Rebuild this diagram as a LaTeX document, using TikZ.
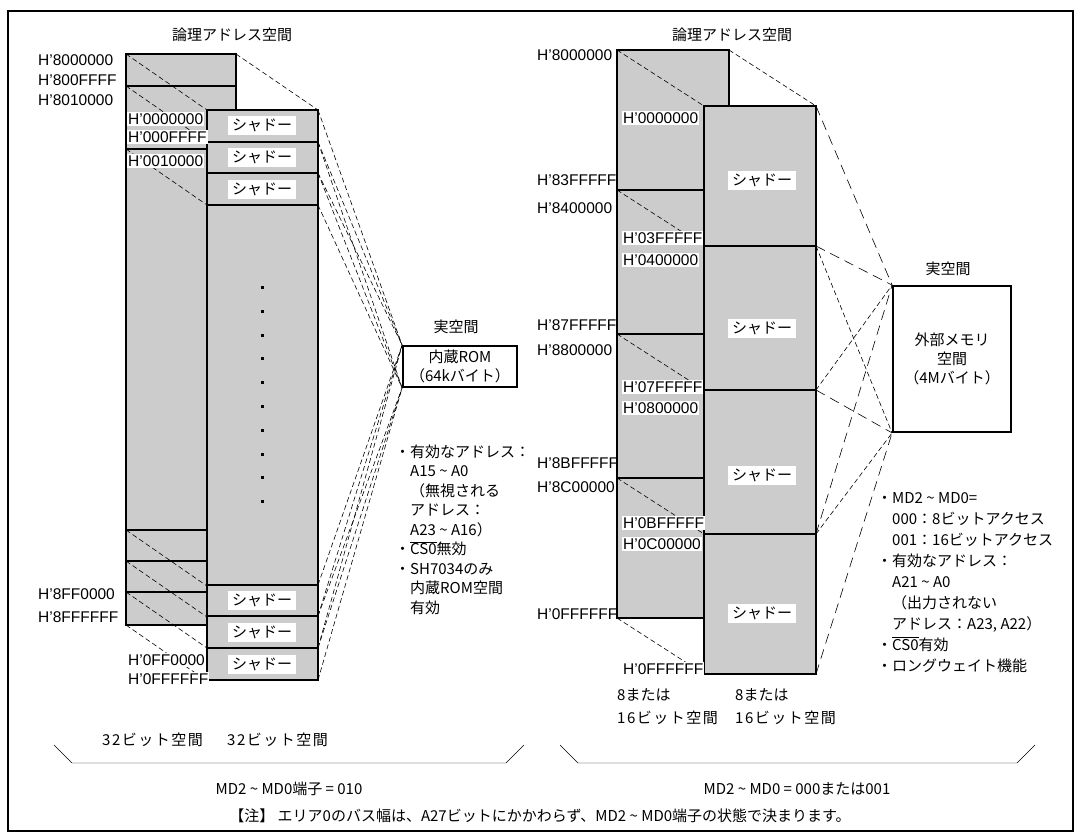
\documentclass[tikz,border=0pt]{standalone}
\usepackage{fontspec}
\setmainfont{Liberation Sans}
\newfontfamily\jp{Noto Sans CJK JP}
\newfontfamily\jpwide[LetterSpace=10]{Noto Sans CJK JP}
\newcommand\ovl[1]{$\overline{\hbox{#1}}$}
\newcommand\tld{\textasciitilde}
\begin{document}
\begin{tikzpicture}[x=1pt,y=-1pt,
  outline/.style={line width=1.8pt},
  area/.style={draw,line width=1.8pt,fill=black!20},
  cut/.style={line width=1.8pt},
  map/.style={line width=0.6pt,dash pattern=on 5pt off 3pt},
  maplong/.style={line width=0.6pt,dash pattern=on 10pt off 6pt},
  real/.style={draw,line width=1.8pt,fill=white,align=center,inner sep=0pt,font=\jp\fontsize{15}{19}\selectfont},
  jtxt/.style={font=\jp\fontsize{15}{19}\selectfont,inner sep=0pt},
  memnote/.style={jtxt,anchor=west,text height=12.5pt,text depth=2.5pt},
  shadowlbl/.style={fill=white,font=\jp\fontsize{15}{15}\selectfont,inner xsep=4pt,inner ysep=2pt,text height=12.5pt,text depth=2.5pt},
  addr/.style={anchor=west,font=\fontsize{15.5}{16}\selectfont,inner sep=0pt},
  addrbox/.style={addr,fill=white,inner xsep=1pt,inner ysep=1.5pt}]
\useasboundingbox (0,0) rectangle (1081,840);
\draw[outline] (8,11) rectangle (1073,831);

% 32-bit area
\node[jtxt] (title-l) at (232,35) {論理アドレス空間};
\coordinate (a0) at (126,54);  \coordinate (b0) at (207,110);
\coordinate (a1) at (126,86);  \coordinate (b1) at (207,142);
\coordinate (a2) at (126,149); \coordinate (b2) at (207,205);
\coordinate (a3) at (126,530); \coordinate (b3) at (207,586);
\coordinate (a4) at (126,561); \coordinate (b4) at (207,617);
\coordinate (a5) at (126,592); \coordinate (b5) at (207,648);
\coordinate (a6) at (126,625); \coordinate (b6) at (207,681);
\coordinate (a7) at (236,54);  \coordinate (b7) at (318,110);
\filldraw[area] (a0) rectangle (236,625);
\foreach \y in {86,149,530,561,592} \draw[cut] (126,\y) -- (236,\y);
\foreach \i in {0,...,7} \draw[map] (a\i) -- (b\i);
\filldraw[area] (b0) rectangle (318,680);
\foreach \y in {142,173,205,585,616,648} \draw[cut] (207,\y) -- (318,\y);
\foreach \y [count=\i] in {126,157.5,189,600.5,632,664}
  \node[shadowlbl] (sh-l\i) at (262,\y) {シャドー};
\foreach \k in {0,...,9} \fill (261,{286+23.8*\k}) rectangle +(2.5,3);

\foreach \y/\t [count=\i] in {60/H'8000000,80/H'800FFFF,100/H'8010000,594/H'8FF0000,617/H'8FFFFFF}
  \node[addr] (la\i) at (38,\y) {\t};
\foreach \y/\t [count=\i] in {119/H'0000000,137/H'000FFFF,161/H'0010000,660/H'0FF0000,679/H'0FFFFFF}
  \node[addrbox] (lb\i) at (127,\y) {\t};

\node[jtxt] (real-l) at (456,327) {実空間};
\node[real,minimum width=114,minimum height=41] (rom) at (460,366.5) {内蔵ROM\\（64kバイト）};
\foreach \t/\b in {110/142,142/173,173/205,585/616,616/648,648/680} {
  \coordinate (rt) at (318,\t); \coordinate (rb) at (318,\b);
  \draw[map] (rt) -- (rom.north west);
  \draw[map] (rb) -- (rom.south west);
}
\foreach \t [count=\i] in {{\llap{・}有効なアドレス：},{A15 \tld{} A0},{（無視される},{アドレス：},{A23 \tld{} A16）},{\llap{・}\ovl{CS0}無効},{\llap{・}SH7034のみ},{内蔵ROM空間},{有効}}
  \node[memnote] (rn\i) at (410,{452+19.5*(\i-1)}) {\t};

% 8/16-bit area
\node[jtxt] (title-r) at (732,35) {論理アドレス空間};
\coordinate (c0) at (617,50);  \coordinate (d0) at (704,106);
\coordinate (c1) at (617,190); \coordinate (d1) at (704,246);
\coordinate (c2) at (617,334); \coordinate (d2) at (704,390);
\coordinate (c3) at (617,478); \coordinate (d3) at (704,534);
\coordinate (c4) at (617,618); \coordinate (d4) at (704,674);
\coordinate (c5) at (729,50);  \coordinate (d5) at (816,106);
\filldraw[area] (c0) rectangle (729,618);
\foreach \y in {190,334,478} \draw[cut] (617,\y) -- (729,\y);
\foreach \i in {0,...,5} \draw[map] (c\i) -- (d\i);
\filldraw[area] (d0) rectangle (816,674);
\foreach \y in {246,390,534} \draw[cut] (704,\y) -- (816,\y);
\foreach \y [count=\i] in {180,328,475,613}
  \node[shadowlbl] (sh-r\i) at (762,\y) {シャドー};

\foreach \y/\t [count=\i] in {55/H'8000000,180/H'83FFFFF,208/H'8400000,325/H'87FFFFF,350/H'8800000,463/H'8BFFFFF,487/H'8C00000,614/H'0FFFFFF}
  \node[addr] (lc\i) at (537,\y) {\t};
\foreach \y/\t [count=\i] in {118/H'0000000,238/H'03FFFFF,260/H'0400000,387/H'07FFFFF,408/H'0800000,523/H'0BFFFFF,544/H'0C00000,669/H'0FFFFFF}
  \node[addrbox] (ld\i) at (622,\y) {\t};

\node[jtxt] (real-r) at (948,269) {実空間};
\node[real,minimum width=118,minimum height=146] (ext) at (952,359) {外部メモリ\\空間\\（4Mバイト）};
\coordinate (e0) at (816,106); \coordinate (e1) at (816,246);
\coordinate (e2) at (816,390); \coordinate (e3) at (816,534);
\coordinate (e4) at (816,674);
\draw[maplong] (e0) -- (ext.north west);
\draw[map] (e1) -- (ext.south west);
\draw[maplong] (e1) -- (ext.north west);
\draw[maplong] (e2) -- (ext.south west);
\draw[map] (e2) -- (ext.north west);
\draw[map] (e3) -- (ext.south west);
\draw[maplong] (e3) -- (ext.north west);
\draw[maplong] (e4) -- (ext.south west);
\foreach \t [count=\i] in {{\llap{・}MD2 \tld{} MD0=},{000：8ビットアクセス},{001：16ビットアクセス},{\llap{・}有効なアドレス：},{A21 \tld{} A0},{（出力されない},{アドレス：A23, A22）},{\llap{・}\ovl{CS0}有効},{\llap{・}ロングウェイト機能}}
  \node[memnote] (en\i) at (892,{498+21*(\i-1)}) {\t};

% widths and modes
\node[memnote] (w1) at (102,740) {\jpwide 32ビット空間};
\node[memnote] (w2) at (227,740) {\jpwide 32ビット空間};
\node[memnote] (w3) at (617,695) {8または};
\node[memnote] (w4) at (617,718) {\jpwide 16ビット空間};
\node[memnote] (w5) at (735,695) {8または};
\node[memnote] (w6) at (735,718) {\jpwide 16ビット空間};
\draw (54,745) -- (72,763) -- (506,763) -- (524,745);
\draw (560,745) -- (578,763) -- (1017,763) -- (1035,745);
\node[jtxt] (mode-l) at (289,789) {MD2 \tld{} MD0端子 = 010};
\node[jtxt] (mode-r) at (797,789) {MD2 \tld{} MD0 = 000または001};
\node[jtxt] (remark) at (540,816) {【注】 エリア0のバス幅は、A27ビットにかかわらず、MD2 \tld{} MD0端子の状態で決まります。};
\end{tikzpicture}
\end{document}
